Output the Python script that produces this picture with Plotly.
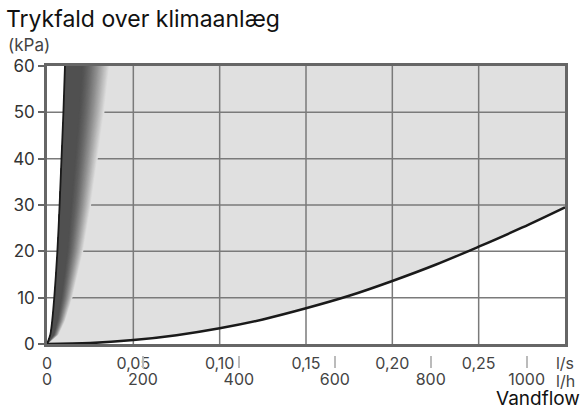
import plotly.graph_objects as go

# ---------------- data ----------------
# lower curve: pressure drop (kPa) vs flow (l/s)
flow_lower_ls = [0, 0.025, 0.05, 0.075, 0.10, 0.125, 0.15, 0.175, 0.20, 0.225, 0.25, 0.275, 0.30]
dp_lower_kpa = [0, 0.2, 0.85, 1.9, 3.4, 5.3, 7.7, 10.4, 13.6, 17.1, 21.0, 25.1, 29.5]

# upper (steep) curve
dp_upper_kpa = [0, 2, 5, 10, 20, 30, 40, 50, 60]
flow_upper_ls = [0, 0.0019, 0.0030, 0.0042, 0.0060, 0.0073, 0.0084, 0.0095, 0.0104]

# shaded band multipliers (relative to upper curve)
band_dark_end = 1.95
band_fade_end = 3.5

# axes
X_MAX_LS = 0.30
Y_MAX = 60
ls_tickvals = [0, 0.05, 0.10, 0.15, 0.20, 0.25, 0.30]
ls_ticktext = ["0", "0,05", "0,10", "0,15", "0,20", "0,25", "l/s"]
lh_tickvals = [0, 200, 400, 600, 800, 1000]
lh_ticktext = ["0", "200", "400", "600", "800", "1000"]
y_tickvals = [0, 10, 20, 30, 40, 50, 60]

FONT = "Inter"
fig = go.Figure()

# light grey area between the curves
fx = flow_upper_ls + [X_MAX_LS] + list(reversed(flow_lower_ls))
fy = dp_upper_kpa + [Y_MAX] + list(reversed(dp_lower_kpa))
fig.add_trace(go.Scatter(x=fx, y=fy, fill="toself", fillcolor="#e0e0e0",
                         line=dict(width=0), mode="lines", hoverinfo="skip"))

# grid lines (drawn over light fill)
gx, gy = [], []
for v in ls_tickvals[1:-1]:
    gx += [v, v, None]
    gy += [0, Y_MAX, None]
for v in y_tickvals[1:-1]:
    gx += [0, X_MAX_LS, None]
    gy += [v, v, None]
fig.add_trace(go.Scatter(x=gx, y=gy, mode="lines", line=dict(color="#7a7a7a", width=1.5),
                         hoverinfo="skip"))

# gradient band
def lerp(a, b, t):
    return int(round(a + (b - a) * t))

N = 32
for i in range(N, -1, -1):
    t = i / N
    m = band_dark_end + (band_fade_end - band_dark_end) * t
    c = lerp(80, 224, t ** 1.4)
    col = f"rgb({c},{c},{c})"
    bx = flow_upper_ls + [m * q for q in reversed(flow_upper_ls)]
    by = dp_upper_kpa + list(reversed(dp_upper_kpa))
    fig.add_trace(go.Scatter(x=bx, y=by, fill="toself", fillcolor=col,
                             line=dict(width=0), mode="lines", hoverinfo="skip"))

# curves
fig.add_trace(go.Scatter(x=flow_upper_ls, y=dp_upper_kpa, mode="lines",
                         line=dict(color="#1a1a1a", width=1.8, shape="spline"), hoverinfo="skip"))
fig.add_trace(go.Scatter(x=flow_lower_ls, y=dp_lower_kpa, mode="lines",
                         line=dict(color="#1a1a1a", width=2.5, shape="spline"), hoverinfo="skip"))

# invisible trace on l/h axis
fig.add_trace(go.Scatter(x=lh_tickvals, y=[0] * len(lh_tickvals), xaxis="x2", mode="markers",
                         marker=dict(opacity=0), hoverinfo="skip"))

PLOT_L, PLOT_R = 47, 565
PW = PLOT_R - PLOT_L

fig.update_layout(
    width=584, height=412,
    margin=dict(l=PLOT_L, r=584 - PLOT_R, t=66, b=44, autoexpand=False),
    paper_bgcolor="white", plot_bgcolor="white", showlegend=False,
    font=dict(family=FONT, color="#333"),
    xaxis=dict(range=[0, X_MAX_LS], tickvals=ls_tickvals, ticktext=ls_ticktext,
               showgrid=False, zeroline=False, showline=True, linecolor="#666",
               linewidth=2.5, mirror=True, ticks="", anchor="y", domain=[0, 1],
               automargin=False, ticklabelstandoff=3, tickfont=dict(size=16, color="#444")),
    xaxis2=dict(range=[0, X_MAX_LS * 3600], overlaying="x", anchor="free", position=0,
                side="bottom", tickvals=lh_tickvals, ticktext=lh_ticktext,
                ticks="inside", ticklen=12, tickcolor="#bbbbbb", tickwidth=1.5,
                showline=False, showgrid=False, zeroline=False, automargin=False,
                tickfont=dict(size=16, color="#444")),
    yaxis=dict(range=[0, Y_MAX], domain=[0.0795, 1], tickvals=y_tickvals,
               ticks="outside", ticklen=6, tickcolor="#666", tickwidth=1.5,
               showgrid=False, zeroline=False, showline=True, linecolor="#666",
               linewidth=2.5, mirror=True, automargin=False,
               tickfont=dict(size=17, color="#333")),
    annotations=[
        dict(text="Trykfald over klimaanlæg", xref="paper", yref="paper",
             x=(4 - PLOT_L) / PW, y=1, yshift=47, xanchor="left", yanchor="middle",
             showarrow=False, font=dict(size=23, color="#111", family=FONT)),
        dict(text="(kPa)", xref="paper", yref="paper",
             x=(6 - PLOT_L) / PW, y=1, yshift=21, xanchor="left", yanchor="middle",
             showarrow=False, font=dict(size=17, color="#444", family=FONT)),
        dict(text="l/h", xref="x2", yref="paper", x=X_MAX_LS * 3600, y=0,
             xanchor="center", yanchor="top", yshift=-1,
             showarrow=False, font=dict(size=16, color="#444", family=FONT)),
        dict(text="Vandflow", xref="paper", yref="paper",
             x=(582 - PLOT_L) / PW, y=0, yshift=-30, xanchor="right", yanchor="middle",
             showarrow=False, font=dict(size=19, color="#111", family=FONT)),
    ],
)

fig.write_html("out.html", config={"displayModeBar": False},
               post_script="document.body.style.margin='0px';document.body.style.padding='0px';")
